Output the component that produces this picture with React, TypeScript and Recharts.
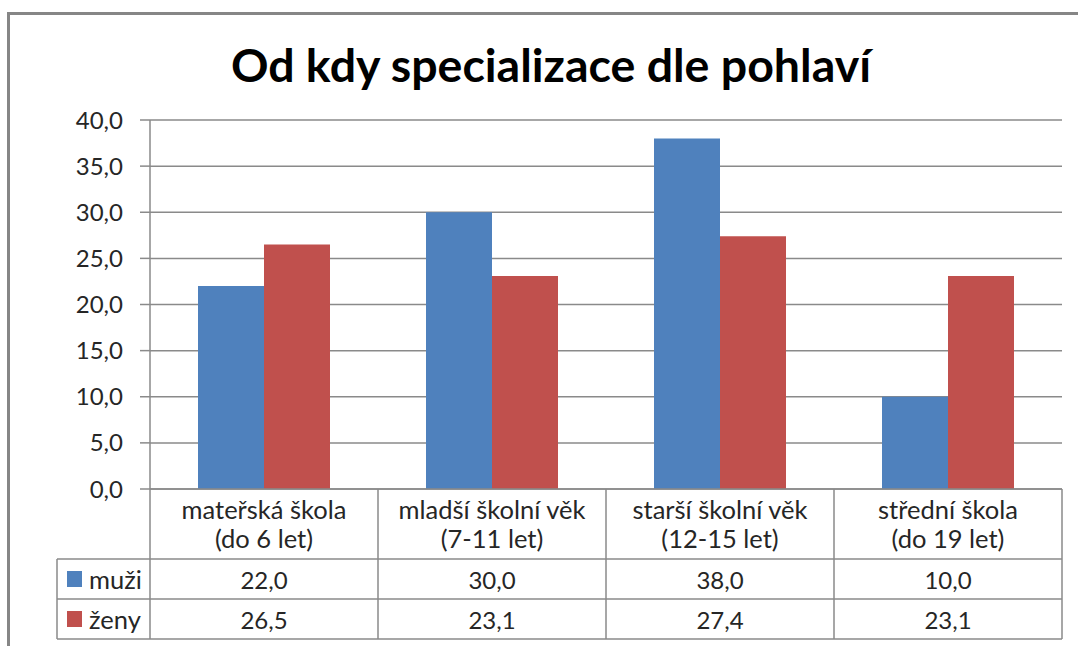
import React from 'react';
import { BarChart, Bar, XAxis, YAxis, CartesianGrid } from 'recharts';

const title = 'Od kdy specializace dle pohlaví';
const categoryLine1 = ['mateřská škola', 'mladší školní věk', 'starší školní věk', 'střední škola'];
const categoryLine2 = ['(do 6 let)', '(7-11 let)', '(12-15 let)', '(do 19 let)'];
const muzi = [22.0, 30.0, 38.0, 10.0];
const zeny = [26.5, 23.1, 27.4, 23.1];
const yTicks = [0, 5, 10, 15, 20, 25, 30, 35, 40];
const seriesNames = ['muži', 'ženy'];

const data = categoryLine1.map((c, i) => ({
  name: c + ' ' + categoryLine2[i],
  muzi: muzi[i],
  zeny: zeny[i],
}));

const W = 1078;
const H = 646;
const M = { top: 120, right: 16, bottom: 0, left: 0 };
const Y_W = 150;
const X_H = 157;
const PLOT_W = W - M.left - M.right - Y_W;
const CELL_W = PLOT_W / data.length;
const GRID = '#8a8a8a';
const TXT = '#262626';
const FONT = 'Lato, "Liberation Sans", sans-serif';
const BLUE = '#4F81BD';
const RED = '#C0504D';
const HEAD_H = 70;
const ROW_H = 40;
const LEG_W = 93;

const fmt = (v: number) => v.toFixed(1).replace('.', ',');

const TableTick = (props: any) => {
  const { x, y, index } = props;
  const left = x - CELL_W / 2;
  const right = x + CELL_W / 2;
  const top = y;
  const bottom = top + HEAD_H + ROW_H * 2;
  const r1 = top + HEAD_H;
  const r2 = r1 + ROW_H;
  const txt = { fontFamily: FONT, fontSize: 24, fill: TXT, textAnchor: 'middle' as const, dominantBaseline: 'central' as const };
  const lbl = { ...txt, fontSize: 25.5 };
  return (
    <g>
      <line x1={right} y1={top} x2={right} y2={bottom} stroke={GRID} strokeWidth={1.5} />
      {index === 0 && <line x1={left} y1={top} x2={left} y2={bottom} stroke={GRID} strokeWidth={1.5} />}
      <line x1={index === 0 ? left - LEG_W : left} y1={r1} x2={right} y2={r1} stroke={GRID} strokeWidth={1.5} />
      <line x1={index === 0 ? left - LEG_W : left} y1={r2} x2={right} y2={r2} stroke={GRID} strokeWidth={1.5} />
      <line x1={index === 0 ? left - LEG_W : left} y1={bottom} x2={right} y2={bottom} stroke={GRID} strokeWidth={1.5} />
      {index === 0 && <line x1={left - LEG_W} y1={r1} x2={left - LEG_W} y2={bottom} stroke={GRID} strokeWidth={1.5} />}
      <text x={x} y={top + 20} {...lbl}>{categoryLine1[index]}</text>
      <text x={x} y={top + 49} {...lbl}>{categoryLine2[index]}</text>
      <text x={x} y={r1 + ROW_H / 2} {...txt}>{fmt(muzi[index])}</text>
      <text x={x} y={r2 + ROW_H / 2} {...txt}>{fmt(zeny[index])}</text>
      {index === 0 && (
        <g>
          <rect x={left - LEG_W + 10} y={r1 + ROW_H / 2 - 8} width={15} height={16} fill={BLUE} />
          <text x={left - LEG_W + 32} y={r1 + ROW_H / 2} {...lbl} textAnchor="start">{seriesNames[0]}</text>
          <rect x={left - LEG_W + 10} y={r2 + ROW_H / 2 - 8} width={15} height={16} fill={RED} />
          <text x={left - LEG_W + 32} y={r2 + ROW_H / 2} {...lbl} textAnchor="start">{seriesNames[1]}</text>
        </g>
      )}
    </g>
  );
};

export default function App() {
  return (
    <div style={{ position: 'absolute', left: 0, top: 0, width: W, height: H, overflow: 'hidden', background: '#fff' }}>
      <div style={{ position: 'absolute', left: 7, top: 12, width: W + 20, height: H + 20, border: '3px solid #868686', boxSizing: 'border-box' }} />
      <div style={{ position: 'absolute', left: 0, top: 35, width: 1102, textAlign: 'center', fontFamily: FONT, fontWeight: 700, fontSize: 46.5, color: '#000', lineHeight: '58px' }}>
        {title}
      </div>
      <div style={{ position: 'absolute', left: 0, top: 0 }}>
        <BarChart width={W} height={H} data={data} margin={M} barCategoryGap={48} barGap={0}>
          <CartesianGrid vertical={false} stroke={GRID} strokeWidth={1.5} />
          <XAxis
            dataKey="name"
            height={X_H}
            interval={0}
            tickLine={false}
            tickSize={0}
            tickMargin={0}
            axisLine={{ stroke: GRID, strokeWidth: 1.5 }}
            tick={<TableTick />}
          />
          <YAxis
            width={Y_W}
            domain={[0, 40]}
            ticks={yTicks}
            interval={0}
            tickFormatter={fmt}
            tickSize={10}
            tickMargin={17}
            axisLine={{ stroke: GRID, strokeWidth: 1.5 }}
            tickLine={{ stroke: GRID, strokeWidth: 1.5 }}
            tick={{ fontFamily: FONT, fontSize: 24, fill: TXT }}
          />
          <Bar dataKey="muzi" fill={BLUE} isAnimationActive={false} />
          <Bar dataKey="zeny" fill={RED} isAnimationActive={false} />
        </BarChart>
      </div>
    </div>
  );
}
